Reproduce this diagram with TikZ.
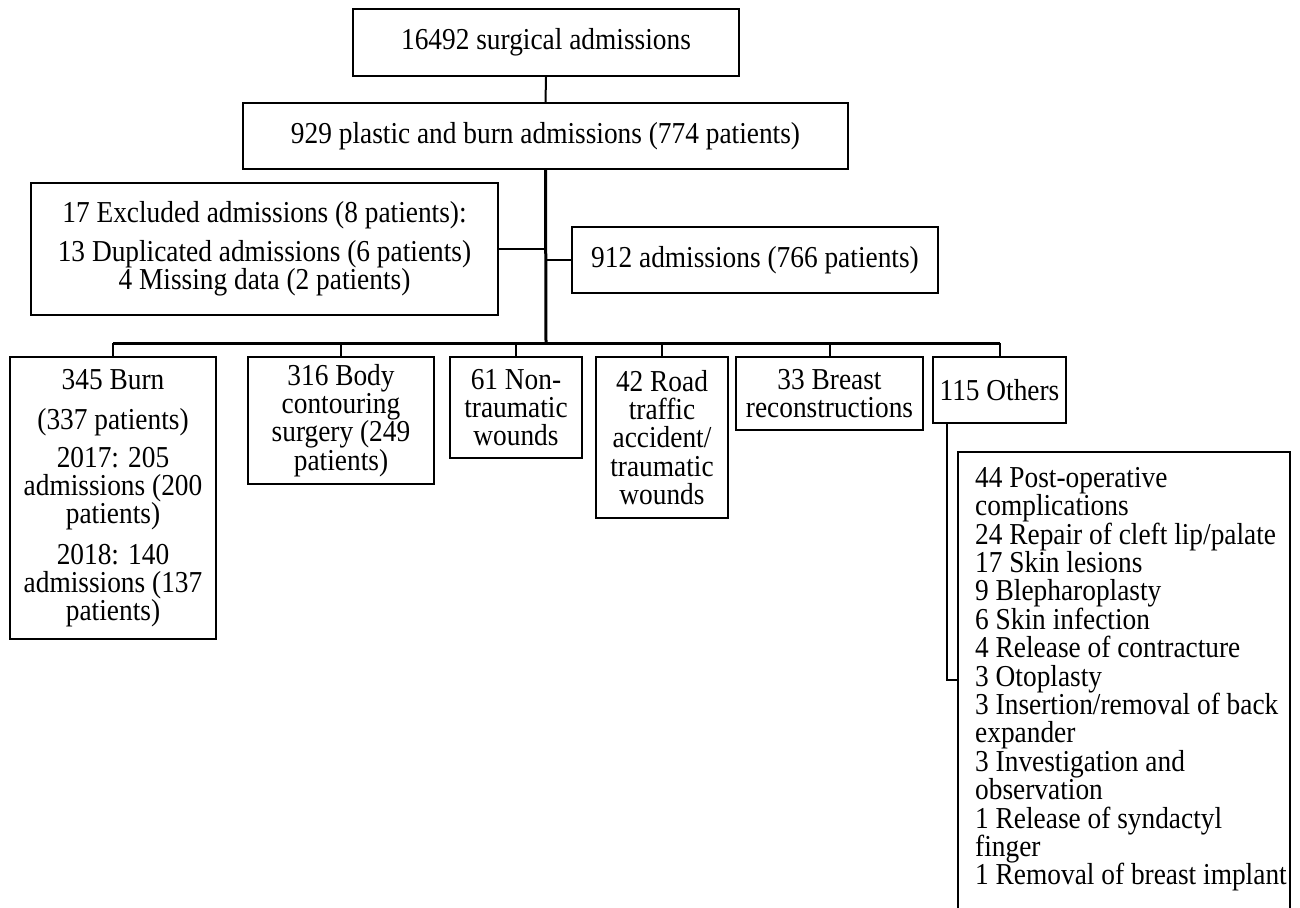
\documentclass[tikz,border=0pt]{standalone}
\usepackage{fontspec}
\setmainfont{Liberation Serif}[FakeStretch=0.9]
\begin{document}
\begin{tikzpicture}[x=1pt,y=-1pt,
  box/.style={draw, line width=2pt, inner sep=0pt, align=center,
    font=\fontsize{30.4}{28.2}\selectfont},
  conn/.style={line width=2pt},
  trunk/.style={line width=3pt}]
\useasboundingbox (0,0) rectangle (1300,907);

\node[box, minimum width=386pt, minimum height=67pt] (top) at (546,42.5) {16492 surgical admissions};
\node[box, minimum width=605pt, minimum height=66pt] (plastic) at (545.5,136) {929 plastic and burn admissions (774 patients)};
\node[box, minimum width=467pt, minimum height=132pt] (excl) at (264.5,249)
  {17 Excluded admissions (8 patients):\\[11pt]13 Duplicated admissions (6 patients)\\4 Missing data (2 patients)};
\node[box, minimum width=366pt, minimum height=66pt] (n912) at (755,260) {912 admissions (766 patients)};

\node[box, minimum width=206pt, minimum height=282pt] (burn) at (113,498)
  {345 Burn\\[12pt](337 patients)\\[10pt]2017: 205\\admissions (200\\patients)\\[12pt]2018: 140\\admissions (137\\patients)};
\node[box, minimum width=186pt, minimum height=127pt] (body) at (341,420.5)
  {316 Body\\contouring\\surgery (249\\patients)};
\node[box, minimum width=132pt, minimum height=101pt] (non) at (516,407.5)
  {61 Non-\\traumatic\\wounds};
\node[box, minimum width=132pt, minimum height=161pt] (road) at (662,437.5)
  {42 Road\\traffic\\accident/\\traumatic\\wounds};
\node[box, minimum width=187pt, minimum height=73pt] (breast) at (829.5,393.5)
  {33 Breast\\reconstructions};
\node[box, minimum width=133pt, minimum height=66pt] (others) at (999.5,390)
  {115 Others};

\node[anchor=north west, inner sep=0pt, align=left,
  font=\fontsize{30.4}{28.4}\selectfont] (list) at (975,467)
  {44 Post-operative\\complications\\24 Repair of cleft lip/palate\\17 Skin lesions\\9 Blepharoplasty\\6 Skin infection\\4 Release of contracture\\3 Otoplasty\\3 Insertion/removal of back\\expander\\3 Investigation and\\observation\\1 Release of syndactyl\\finger\\1 Removal of breast implant};
\draw[conn] (958,915) |- (1290,452) -- (1290,915);

\coordinate (bus) at (546,343);
\coordinate (listjoin) at (958,680);

\draw[conn] (top.south) -- (plastic.north);
\draw[trunk] (plastic.south) -- (bus);
\draw[conn] (excl.east) -- (excl.east -| bus);
\draw[conn] (n912.west) -- (n912.west -| bus);
\draw[trunk] (burn.north |- bus) -- (others.north |- bus);
\foreach \n in {burn,body,non,road,breast,others}
  \draw[conn] (\n.north) -- (\n.north |- bus);
\draw[conn] ([xshift=-52.5pt]others.south) |- (listjoin);
\end{tikzpicture}
\end{document}
